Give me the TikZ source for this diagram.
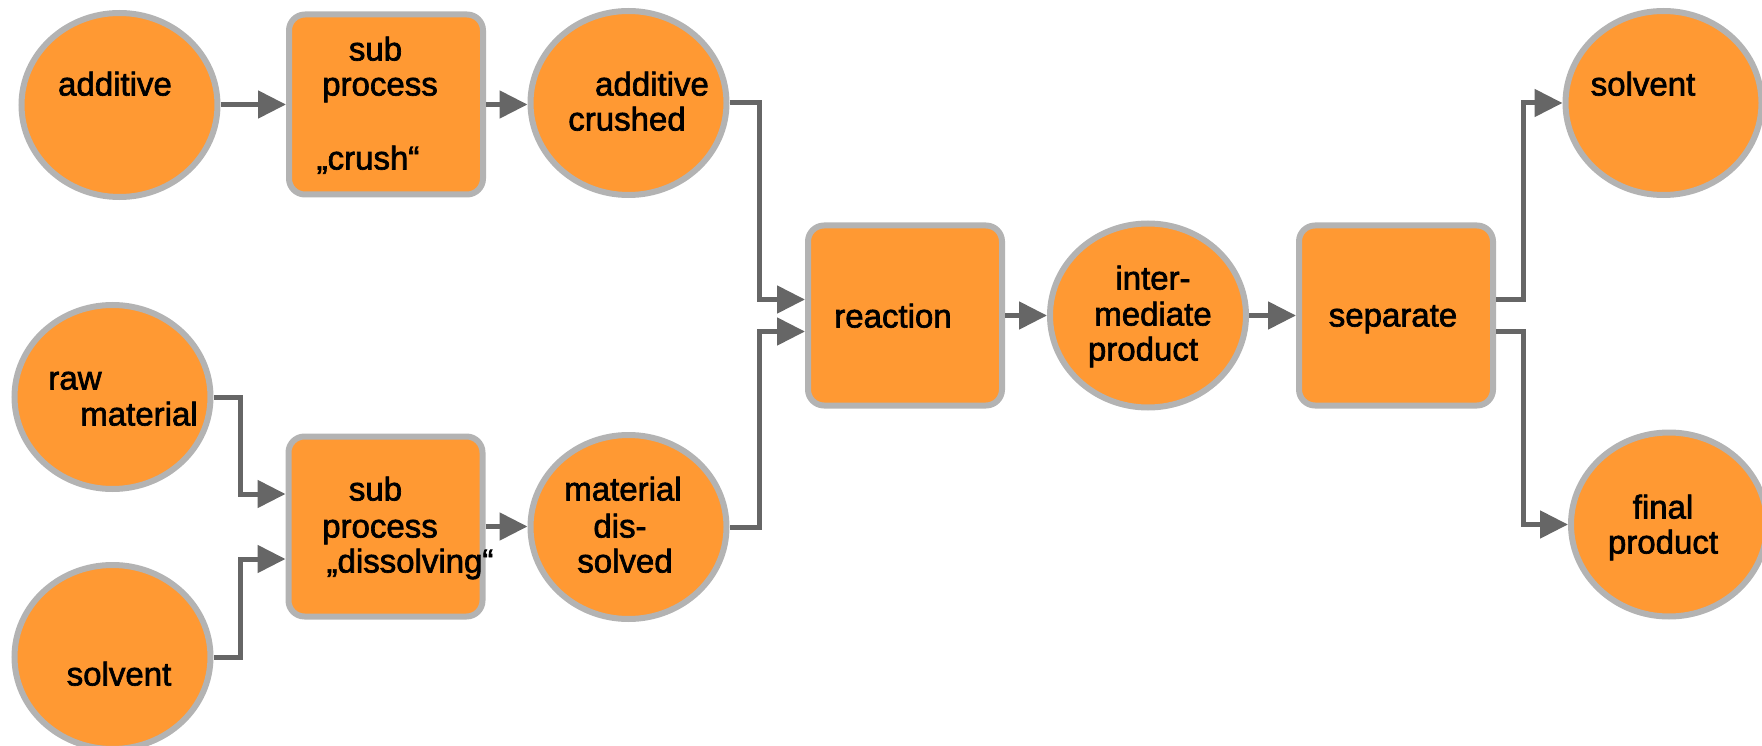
\documentclass[tikz,border=0pt]{standalone}
\usepackage{fontspec}
\setmainfont{Liberation Sans}[FakeBold=2]
\usetikzlibrary{shapes.geometric,arrows.meta}
\definecolor{fillorange}{HTML}{FF9933}
\definecolor{rimgrey}{HTML}{B3B3B3}
\definecolor{linkgrey}{HTML}{666666}
\begin{document}
\begin{tikzpicture}[x=1pt,y=-1pt,
  stuff/.style={ellipse, draw=rimgrey, line width=6pt, fill=fillorange,
    minimum width=196pt, minimum height=184pt, inner sep=0pt},
  stage/.style={rectangle, rounded corners=16pt, draw=rimgrey, line width=6pt,
    fill=fillorange, minimum width=194pt, minimum height=180pt, inner sep=0pt},
  word/.style={anchor=base, inner sep=0pt, yshift=-2.5pt,
    font=\fontsize{33}{36}\selectfont},
  link/.style={draw=linkgrey, line width=5pt, line join=miter,
    -{Triangle[length=28pt,width=27pt]}}]
\useasboundingbox (0,0) rectangle (1762,746);
\clip (0,0) rectangle (1762,746);

% materials (ellipses) and process steps (rounded boxes)
\node[stuff] (add)   at (119.5,105)  {};
\node[stage] (crush) at (386,104.5)  {};
\node[stuff] (ac)    at (628.5,103)  {};
\node[stuff] (raw)   at (112.5,397)  {};
\node[stuff] (solvL) at (112.5,657)  {};
\node[stage] (diss)  at (385.5,526.5){};
\node[stuff] (mat)   at (628.5,527)  {};
\node[stage] (react) at (905,315.5)  {};
\node[stuff] (inter) at (1148,315.5) {};
\node[stage] (sep)   at (1396,315.5) {};
\node[stuff] (solvR) at (1663.5,103) {};
\node[stuff] (fin)   at (1669,524.5) {};

% labels, one node per line
\node[word] (add-t)    at (115,93)   {additive};
\node[word] (crush-t1) at (375.5,58) {sub};
\node[word] (crush-t2) at (380,93)   {process};
\node[word] (crush-t3) at (368,167)  {„crush“};
\node[word] (ac-t1)    at (652,93)   {additive};
\node[word] (ac-t2)    at (627,128)  {crushed};
\node[word] (raw-t1)   at (75,387)   {raw};
\node[word] (raw-t2)   at (139,423)  {material};
\node[word] (solvL-t)  at (119,683)  {solvent};
\node[word] (diss-t1)  at (375.5,498){sub};
\node[word] (diss-t2)  at (380,535)  {process};
\node[word] (diss-t3)  at (410,570)  {„dissolving“};
\node[word] (mat-t1)   at (623,498)  {material};
\node[word] (mat-t2)   at (620,535)  {dis-};
\node[word] (mat-t3)   at (625,570)  {solved};
\node[word] (react-t)  at (893,325)  {reaction};
\node[word] (inter-t1) at (1153,287) {inter-};
\node[word] (inter-t2) at (1153,323) {mediate};
\node[word] (inter-t3) at (1143,358) {product};
\node[word] (sep-t)    at (1393,324) {separate};
\node[word] (solvR-t)  at (1643,93)  {solvent};
\node[word] (fin-t1)   at (1663,516) {final};
\node[word] (fin-t2)   at (1663,551) {product};

% elbow joints of the connectors
\coordinate (jA) at (759,0);
\coordinate (jB) at (240,0);
\coordinate (jC) at (1523,0);
\coordinate (reactIn1) at ([yshift=16pt]react.west);
\coordinate (reactIn2) at ([yshift=-16pt]react.west);
\coordinate (dissIn1)  at ([yshift=32.5pt]diss.west);
\coordinate (dissIn2)  at ([yshift=-32.5pt]diss.west);
\coordinate (sepOut1)  at ([yshift=16pt]sep.east);
\coordinate (sepOut2)  at ([yshift=-16pt]sep.east);

% connectors
\draw[link] (add.east |- crush.west) -- (crush.west);
\draw[link] (crush.east) -- (crush.east -| ac.west);
\draw[link] (ac.east) -- (ac.east -| jA) |- (reactIn1);
\draw[link] (mat.east) -- (mat.east -| jA) |- (reactIn2);
\draw[link] (raw.east) -- (raw.east -| jB) |- (dissIn1);
\draw[link] (solvL.east) -- (solvL.east -| jB) |- (dissIn2);
\draw[link] (diss.east) -- (diss.east -| mat.west);
\draw[link] (react.east) -- (react.east -| inter.west);
\draw[link] (inter.east) -- (inter.east -| sep.west);
\draw[link] (sepOut1) -- (sepOut1 -| jC) |- (solvR.west);
\draw[link] (sepOut2) -- (sepOut2 -| jC) |- (fin.west);
\end{tikzpicture}
\end{document}
